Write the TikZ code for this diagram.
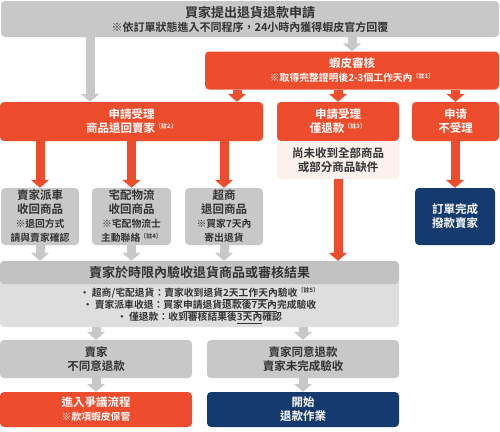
\documentclass[tikz,border=0pt]{standalone}
\usepackage{fontspec}
\setmainfont{Noto Sans CJK TC}[BoldFont=* Bold]
\usetikzlibrary{arrows.meta}
\definecolor{shopee}{HTML}{EE4D2D}
\definecolor{boxgray}{HTML}{C8C8C8}
\definecolor{headgray}{HTML}{C2C2C2}
\definecolor{bodygray}{HTML}{DEDEDE}
\definecolor{navy}{HTML}{143A6E}
\definecolor{pinkish}{HTML}{FCF1EC}
\definecolor{textgray}{HTML}{333333}
\newcommand{\refmark}[1]{\raisebox{0.7ex}{\fontsize{6}{6}\selectfont 〔註#1〕}}
\newcommand{\notefont}{\fontsize{9.8}{11}\selectfont}
\newcommand{\bigfont}{\fontsize{13}{15}\selectfont}
\begin{document}
\begin{tikzpicture}[x=1pt,y=-1pt,
        box/.style={rounded corners=4pt, align=center, inner sep=0pt, text=textgray,
            font=\bfseries\fontsize{11.5}{14}\selectfont},
        graybox/.style={box, fill=boxgray},
        orangebox/.style={box, fill=shopee, text=white},
        bluebox/.style={box, fill=navy, text=white},
        grayarrow/.style={draw=boxgray, line width=9pt, -{Triangle[width=18pt,length=8pt]}},
        orangearrow/.style={grayarrow, draw=shopee}]
    \useasboundingbox (0,0) rectangle (500,431);
    % request and review
    \node[graybox, minimum width=498pt, minimum height=36pt] (apply) at (250,19)
        {{\bigfont 買家提出退貨退款申請}\\{\fontsize{11}{13}\selectfont ※依訂單狀態進入不同程序，24小時內獲得蝦皮官方回覆}};
    \node[orangebox, minimum width=294pt, minimum height=38pt] (review) at (352,70.5)
        {蝦皮審核\\{\notefont ※取得完整證明後2-3個工作天內\refmark{1}}};
    % results of the review
    \node[orangebox, minimum width=263pt, minimum height=39pt] (goods) at (131.5,121.5)
        {申請受理\\商品退回賣家\refmark{2}};
    \node[orangebox, minimum width=122pt, minimum height=39pt] (refund) at (338,121.5)
        {申請受理\\僅退款\refmark{3}};
    \node[orangebox, minimum width=87pt, minimum height=39pt] (reject) at (455.5,121.5)
        {申请\\不受理};
    \node[box, fill=pinkish, minimum width=122pt, minimum height=38pt] (missing) at (338,160)
        {尚未收到全部商品\\或部分商品缺件};
    % ways of returning
    \node[graybox, minimum width=78pt, minimum height=57pt] (pickup) at (40,216.5)
        {賣家派車\\收回商品\\{\notefont ※退回方式}\\{\notefont 請與賣家確認}};
    \node[graybox, minimum width=79pt, minimum height=57pt] (courier) at (131.5,216.5)
        {宅配物流\\收回商品\\{\notefont ※宅配物流士}\\{\notefont 主動聯絡\refmark{4}}};
    \node[graybox, minimum width=78pt, minimum height=57pt] (store) at (224,216.5)
        {超商\\退回商品\\{\notefont ※買家7天內}\\{\notefont 寄出退貨}};
    \node[bluebox, minimum width=80pt, minimum height=57pt] (paid) at (455,216.5)
        {訂單完成\\撥款賣家};
    % seller checks
    \node[box, fill=bodygray, minimum width=399pt, minimum height=66pt,
        path picture={\fill[headgray] (path picture bounding box.north west)
            rectangle ([yshift=-23pt]path picture bounding box.north east);}] (check) at (199.5,294) {};
    \node[box, font=\bfseries\bigfont] (checktitle) at (199.5,272.5)
        {賣家於時限內驗收退貨商品或審核結果};
    \node[box, font=\bfseries\fontsize{9.8}{12}\selectfont] (checknote) at (199.5,305.5)
        {• 超商/宅配退貨：賣家收到退貨\underline{2天工作天}內驗收\refmark{5}\\
         • 賣家派車收退：買家\underline{申請退貨退款後7天內}完成驗收\\
         • 僅退款：收到審核結果後\underline{3天內}確認};
    \node[graybox, minimum width=192pt, minimum height=38pt] (disagree) at (96,359)
        {賣家\\不同意退款};
    \node[graybox, minimum width=192pt, minimum height=38pt] (agree) at (303,359)
        {賣家同意退款\\賣家未完成驗收};
    \node[orangebox, minimum width=192pt, minimum height=35pt] (dispute) at (96,409.5)
        {進入爭議流程\\{\notefont ※款項蝦皮保管}};
    \node[bluebox, minimum width=192pt, minimum height=35pt] (payout) at (303,409.5)
        {開始\\退款作業};
    % arrows
    \draw[grayarrow] (apply.south -| 90,0) -- (goods.north -| 90,0);
    \draw[grayarrow] (apply.south -| review.north) -- (review.north);
    \draw[orangearrow] (review.south -| 237,0) -- (goods.north -| 237,0);
    \draw[orangearrow] (review.south -| refund.north) -- (refund.north);
    \draw[orangearrow] (review.south -| reject.north) -- (reject.north);
    \draw[orangearrow] (goods.south -| pickup.north) -- (pickup.north);
    \draw[orangearrow] (goods.south -| courier.north) -- (courier.north);
    \draw[orangearrow] (goods.south -| store.north) -- (store.north);
    \draw[orangearrow] (reject.south -| paid.north) -- (paid.north);
    \draw[orangearrow] (missing.south) -- (check.north -| missing.south);
    \draw[grayarrow] (pickup.south) -- (check.north -| pickup.south);
    \draw[grayarrow] (courier.south) -- (check.north -| courier.south);
    \draw[grayarrow] (store.south) -- (check.north -| store.south);
    \draw[grayarrow] (check.south -| disagree.north) -- (disagree.north);
    \draw[grayarrow] (check.south -| agree.north) -- (agree.north);
    \draw[grayarrow] (disagree.south) -- (dispute.north);
    \draw[grayarrow] (agree.south) -- (payout.north);
\end{tikzpicture}
\end{document}
